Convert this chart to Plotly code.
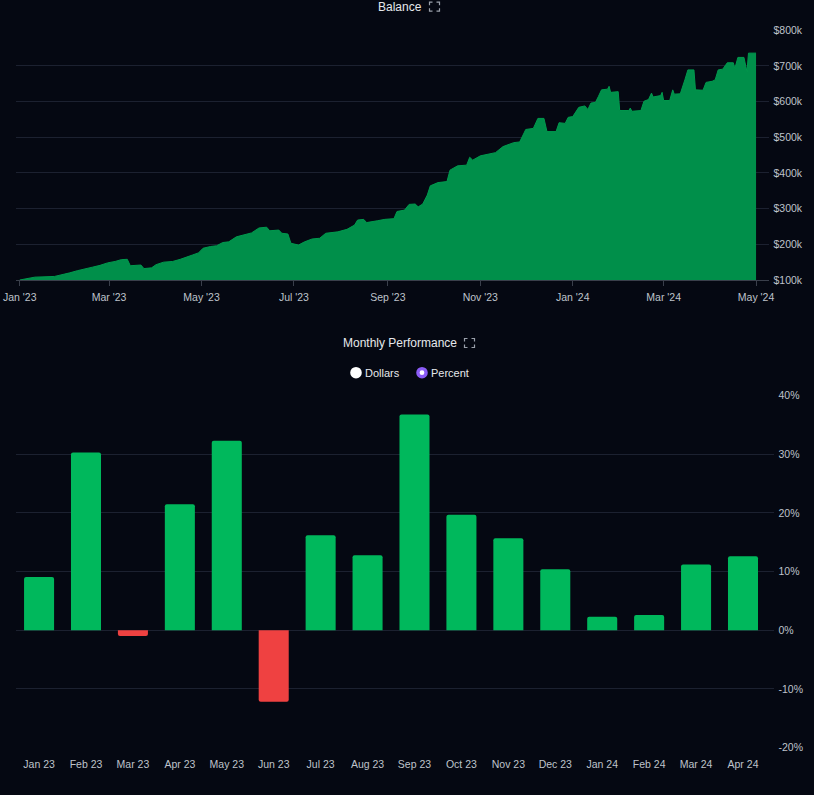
import plotly.graph_objects as go

# Balance (area chart)
balance_dates = [
    "2023-01-01", "2023-01-06", "2023-01-11", "2023-01-24", "2023-01-29", "2023-02-03",
    "2023-02-08", "2023-02-13", "2023-02-18", "2023-02-23", "2023-02-28", "2023-03-05",
    "2023-03-09", "2023-03-13", "2023-03-15", "2023-03-22", "2023-03-24", "2023-03-29",
    "2023-04-01", "2023-04-06", "2023-04-12", "2023-04-17", "2023-04-21", "2023-04-25",
    "2023-04-29", "2023-05-02", "2023-05-07", "2023-05-11", "2023-05-15", "2023-05-19",
    "2023-05-24", "2023-05-29", "2023-06-03", "2023-06-08", "2023-06-13", "2023-06-15",
    "2023-06-21", "2023-06-23", "2023-06-27", "2023-06-29", "2023-07-04", "2023-07-08",
    "2023-07-13", "2023-07-18", "2023-07-22", "2023-07-30", "2023-08-05", "2023-08-10",
    "2023-08-12", "2023-08-16", "2023-08-18", "2023-08-25", "2023-08-30", "2023-09-05",
    "2023-09-07", "2023-09-12", "2023-09-15", "2023-09-19", "2023-09-21", "2023-09-24",
    "2023-09-27", "2023-09-29", "2023-10-04", "2023-10-10", "2023-10-12", "2023-10-17",
    "2023-10-23", "2023-10-25", "2023-10-27", "2023-11-01", "2023-11-06", "2023-11-11",
    "2023-11-16", "2023-11-19", "2023-11-23", "2023-11-27", "2023-12-01", "2023-12-06",
    "2023-12-09", "2023-12-13", "2023-12-15", "2023-12-21", "2023-12-23", "2023-12-27",
    "2023-12-29", "2024-01-01", "2024-01-05", "2024-01-09", "2024-01-11", "2024-01-13",
    "2024-01-16", "2024-01-18", "2024-01-20", "2024-01-24", "2024-01-25", "2024-01-26",
    "2024-01-31", "2024-02-01", "2024-02-07", "2024-02-08", "2024-02-09", "2024-02-15",
    "2024-02-17", "2024-02-20", "2024-02-22", "2024-02-23", "2024-02-28", "2024-02-29",
    "2024-03-01", "2024-03-05", "2024-03-07", "2024-03-08", "2024-03-12", "2024-03-15",
    "2024-03-17", "2024-03-21", "2024-03-22", "2024-03-27", "2024-03-29", "2024-04-02",
    "2024-04-04", "2024-04-06", "2024-04-09", "2024-04-12", "2024-04-16", "2024-04-17",
    "2024-04-19", "2024-04-23", "2024-04-25", "2024-04-26", "2024-05-01",
]
balance_values = [
    100, 103, 108, 110, 114, 120,
    126, 130, 136, 141, 148, 152,
    157, 158, 140, 142, 132, 134,
    143, 150, 152, 158, 163, 170,
    176, 189, 194, 196, 205, 207,
    221, 226, 232, 246, 248, 238,
    240, 231, 229, 203, 198, 207,
    215, 217, 231, 235, 242, 254,
    268, 270, 261, 266, 270, 272,
    292, 296, 312, 313, 305, 313,
    338, 364, 373, 376, 408, 420,
    422, 444, 436, 448, 453, 457,
    474, 478, 485, 487, 522, 525,
    553, 553, 516, 516, 541, 539,
    556, 558, 584, 588, 578, 596,
    598, 615, 633, 635, 643, 626,
    628, 575, 575, 582, 573, 575,
    601, 606, 624, 613, 617, 626,
    603, 603, 633, 621, 622, 661,
    689, 689, 633, 632, 654, 657,
    661, 689, 691, 709, 709, 693,
    724, 724, 684, 736, 736,
]
balance_values = [v * 1000 for v in balance_values]

# Monthly performance (%)
months = ["Jan 23", "Feb 23", "Mar 23", "Apr 23", "May 23", "Jun 23", "Jul 23", "Aug 23",
          "Sep 23", "Oct 23", "Nov 23", "Dec 23", "Jan 24", "Feb 24", "Mar 24", "Apr 24"]
monthly_pct = [9.1, 30.3, -1.0, 21.5, 32.3, -12.2, 16.2, 12.8,
               36.8, 19.7, 15.7, 10.4, 2.3, 2.6, 11.2, 12.6]

pct_ticks = [-20, -10, 0, 10, 20, 30, 40]
pct_labels = [f"{t}%" for t in pct_ticks]

W, H = 814, 795
BG = "#050812"
GRID = "#1c2130"
TXT = "#bfc3cb"
FONT = "Liberation Sans, Arial, sans-serif"


def px(x, y):
    # pixel -> paper coords (margins are zero)
    return x / W, 1 - y / H


fig = go.Figure()

fig.add_trace(go.Scatter(
    x=balance_dates, y=balance_values, mode="lines", fill="tozeroy",
    line=dict(color="#009a4e", width=1), fillcolor="#008f4a",
    xaxis="x", yaxis="y", showlegend=False, hoverinfo="x+y",
))

bar_colors = ["#00b85c" if v >= 0 else "#ef4141" for v in monthly_pct]
fig.add_trace(go.Bar(
    x=months, y=monthly_pct, marker=dict(color=bar_colors, line=dict(width=0), cornerradius=2),
    width=0.64, xaxis="x2", yaxis="y2", showlegend=False,
))

x0, _ = px(15.6, 0)
x1_top, _ = px(768.5, 0)
x1_bot, _ = px(773.5, 0)
_, ytop_b = px(0, 280)
_, ytop_t = px(0, 30.3)
_, ybot_b = px(0, 747.5)
_, ybot_t = px(0, 395.7)

tickfont = dict(family=FONT, size=10.5, color=TXT)

fig.update_layout(
    width=W, height=H,
    margin=dict(l=0, r=0, t=0, b=0),
    paper_bgcolor=BG, plot_bgcolor=BG,
    font=dict(family=FONT, color=TXT),
    showlegend=False,
    xaxis=dict(
        domain=[x0, x1_top], anchor="y", type="date",
        range=["2022-12-29 07:00", "2024-05-09 05:00"],
        tick0="2023-01-01", dtick="M2", tickformat="%b '%y",
        showgrid=False, zeroline=False, showline=True, linecolor="#3a3f4b", linewidth=1,
        ticks="outside", ticklen=5, tickcolor="#3a3f4b", ticklabelstandoff=2,
        tickfont=tickfont, automargin=False,
    ),
    yaxis=dict(
        domain=[ytop_b, ytop_t], anchor="x", side="right",
        range=[100000, 800000], dtick=100000, tickprefix="$", tickformat="~s",
        showgrid=True, gridcolor=GRID, zeroline=False, showline=False,
        ticks="", ticklabelstandoff=4, tickfont=tickfont, automargin=False,
    ),
    xaxis2=dict(
        domain=[x0, x1_bot], anchor="y2", type="category",
        range=[-0.5, 15.65], showgrid=False, zeroline=False, showline=False,
        ticks="", ticklabelstandoff=9, tickfont=tickfont, automargin=False,
    ),
    yaxis2=dict(
        domain=[ybot_b, ybot_t], anchor="x2", side="right",
        range=[-20, 40], tickvals=pct_ticks, ticktext=pct_labels,
        showgrid=True, gridcolor=GRID, zeroline=True, zerolinecolor=GRID, zerolinewidth=1,
        showline=False, ticks="", ticklabelstandoff=4, tickfont=tickfont, automargin=False,
    ),
)

titlefont = dict(family=FONT, size=12, color="#e6e8ec")
annotations = []
shapes = []


def add_title(text, cx, cy, icon_x, icon_w, icon_h):
    ax, ay = px(cx, cy)
    annotations.append(dict(text=text, x=ax, y=ay, xref="paper", yref="paper",
                            xanchor="center", yanchor="middle", showarrow=False, font=titlefont))
    # small "fullscreen" corners icon
    l, t, r, b = icon_x, cy - icon_h / 2, icon_x + icon_w, cy + icon_h / 2
    c = 3
    for (xa, ya, dx, dy) in [(l, t, 1, 1), (r, t, -1, 1), (l, b, 1, -1), (r, b, -1, -1)]:
        p0 = px(xa + dx * c, ya)
        p1 = px(xa, ya)
        p2 = px(xa, ya + dy * c)
        shapes.append(dict(type="path", xref="paper", yref="paper",
                           path=f"M{p0[0]},{p0[1]} L{p1[0]},{p1[1]} L{p2[0]},{p2[1]}",
                           line=dict(color="#9aa0aa", width=1.2)))


add_title("Balance", 400, 6.7, 429.5, 10, 9)
add_title("Monthly Performance", 400, 343, 464.5, 10, 9)

# radio buttons: Dollars / Percent
legend_font = dict(family=FONT, size=11, color="#e6e8ec")
for label, cx, on in [("Dollars", 356, False), ("Percent", 422, True)]:
    r = 5.8
    a, b = px(cx - r, 372.7 - r)
    c, d = px(cx + r, 372.7 + r)
    shapes.append(dict(type="circle", xref="paper", yref="paper", x0=a, y0=b, x1=c, y1=d,
                       fillcolor="#8b5cf6" if on else "#ffffff", line=dict(width=0)))
    if on:
        r2 = 2.4
        a, b = px(cx - r2, 372.7 - r2)
        c, d = px(cx + r2, 372.7 + r2)
        shapes.append(dict(type="circle", xref="paper", yref="paper", x0=a, y0=b, x1=c, y1=d,
                           fillcolor="#ffffff", line=dict(width=0)))
    tx, ty = px(cx + 7, 372.7)
    annotations.append(dict(text=label, x=tx, y=ty, xref="paper", yref="paper",
                            xanchor="left", yanchor="middle", showarrow=False, font=legend_font))

fig.update_layout(annotations=annotations, shapes=shapes)

# page body has a default 8px margin; drop it so the figure fills the window
fig.write_html("out.html", config={"displayModeBar": False},
               post_script="document.body.style.margin='0';")
